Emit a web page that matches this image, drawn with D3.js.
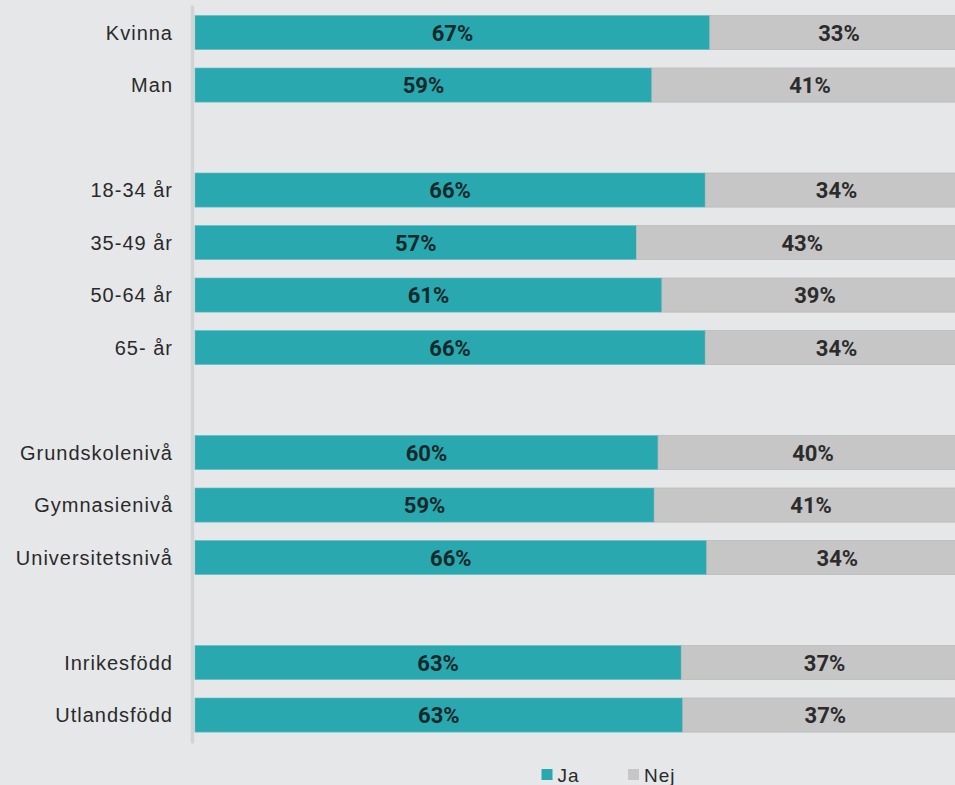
<!DOCTYPE html>
<html lang="sv">
<head>
    <meta charset="UTF-8">
    <title>Ja / Nej</title>
    <script src="https://cdn.jsdelivr.net/npm/d3@7"></script>
    <style>
        html, body { margin: 0; padding: 0; background: #e6e7e9; overflow: hidden; }
        svg { display: block; }
    </style>
</head>
<body>
<script>
    // rader, null = tom rad mellan grupperna
    const categories = ['Kvinna', 'Man', null, '18-34 år', '35-49 år', '50-64 år', '65- år', null,
        'Grundskolenivå', 'Gymnasienivå', 'Universitetsnivå', null, 'Inrikesfödd', 'Utlandsfödd']
    const ja = [66.6, 59.1, null, 66.0, 57.1, 60.4, 66.0, null, 59.9, 59.4, 66.2, null, 62.9, 63.1]
    const jaLabels = ['67%', '59%', null, '66%', '57%', '61%', '66%', null, '60%', '59%', '66%', null, '63%', '63%']
    const nejLabels = ['33%', '41%', null, '34%', '43%', '39%', '34%', null, '40%', '41%', '34%', null, '37%', '37%']
    const seriesNames = ['Ja', 'Nej']
    const colors = ['#29a8af', '#c6c6c6']

    const [width, height] = [955, 785]
    const svg = d3.select('body').append('svg')
        .attr('width', width)
        .attr('height', height)

    const x = d3.scaleLinear().domain([0, 100]).range([195, 968])
    const y = d3.scaleBand()
        .domain(d3.range(categories.length))
        .range([6.3, 741.3])
        .paddingInner(0.35)
        .paddingOuter(0.175)

    const rows = categories.map((c, i) => ({
        i, name: c, ja: ja[i], jaLabel: jaLabels[i], nejLabel: nejLabels[i]
    })).filter(d => d.name !== null)

    // vertikal axellinje
    svg.append('line')
        .attr('x1', 192.5).attr('x2', 192.5)
        .attr('y1', 7).attr('y2', 742)
        .attr('stroke', '#d2d3d5')
        .attr('stroke-width', 3.5)
        .attr('stroke-linecap', 'round')

    const g = svg.append('g')
    const row = g.selectAll('g.row').data(rows).enter()
        .append('g').attr('class', 'row')

    // Ja
    row.append('rect')
        .attr('x', x(0))
        .attr('y', d => y(d.i))
        .attr('width', d => x(d.ja) - x(0))
        .attr('height', y.bandwidth())
        .attr('fill', colors[0])
        .attr('stroke', '#62bfc4')
        .attr('stroke-width', 0.6)
    // Nej
    row.append('rect')
        .attr('x', d => x(d.ja))
        .attr('y', d => y(d.i))
        .attr('width', d => x(100) - x(d.ja))
        .attr('height', y.bandwidth())
        .attr('fill', colors[1])
        .attr('stroke', '#b4b4b4')
        .attr('stroke-width', 0.6)

    const valFont = 'Roboto, "Liberation Sans", sans-serif'
    row.append('text')
        .attr('x', d => (x(0) + x(d.ja)) / 2)
        .attr('y', d => y(d.i) + y.bandwidth() / 2 + 8)
        .attr('text-anchor', 'middle')
        .attr('font-family', valFont)
        .attr('font-weight', 700)
        .attr('font-size', 22)
        .attr('fill', '#14292b')
        .text(d => d.jaLabel)
    row.append('text')
        .attr('x', d => (x(d.ja) + x(100)) / 2)
        .attr('y', d => y(d.i) + y.bandwidth() / 2 + 8)
        .attr('text-anchor', 'middle')
        .attr('font-family', valFont)
        .attr('font-weight', 700)
        .attr('font-size', 22)
        .attr('fill', '#2c2c2c')
        .text(d => d.nejLabel)

    // kategorier
    row.append('text')
        .attr('x', 173)
        .attr('y', d => y(d.i) + y.bandwidth() / 2 + 7)
        .attr('text-anchor', 'end')
        .attr('font-family', '"Liberation Sans", Arial, sans-serif')
        .attr('font-size', 20)
        .attr('letter-spacing', 1.0)
        .attr('fill', '#2a2a2a')
        .text(d => d.name)

    // legend
    const legendX = [541.5, 628]
    const legend = svg.append('g').selectAll('g').data(seriesNames).enter()
        .append('g')
        .attr('transform', (d, i) => `translate(${legendX[i]}, 769)`)
    legend.append('rect')
        .attr('width', 11).attr('height', 11)
        .attr('fill', (d, i) => colors[i])
    legend.append('text')
        .attr('x', 16).attr('y', 12.5)
        .attr('font-family', '"Liberation Sans", Arial, sans-serif')
        .attr('font-size', 19)
        .attr('letter-spacing', 1.0)
        .attr('fill', '#2a2a2a')
        .text(d => d)
</script>
</body>
</html>
